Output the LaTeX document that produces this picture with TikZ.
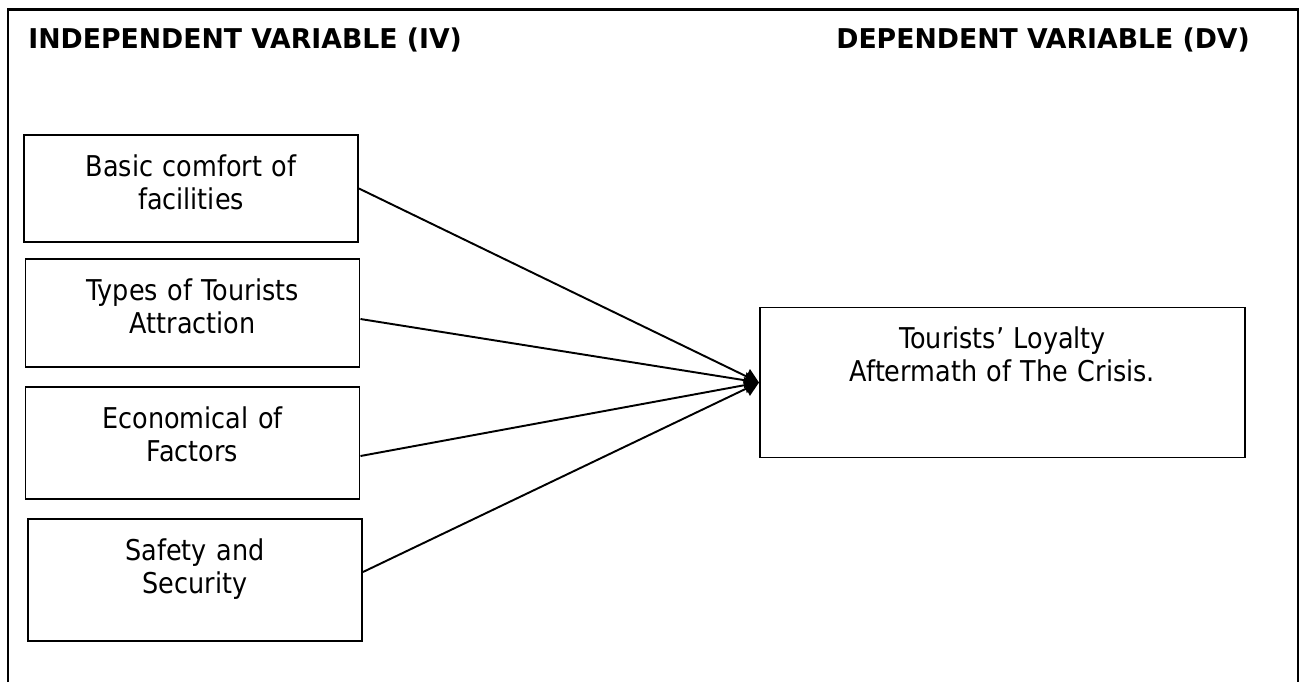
\documentclass[tikz,border=0pt]{standalone}
\usepackage{fontspec}
\usepackage{tikz}
\usetikzlibrary{arrows.meta,positioning}
\newfontfamily\bodyfont{DejaVu Sans}[FakeStretch=0.89]
\newfontfamily\headfont{DejaVu Sans}[FakeStretch=0.98]

\begin{document}
\begin{tikzpicture}[
			>={Triangle[length=8pt,width=9pt]},
			head/.style={anchor=base west, inner sep=0pt, font=\headfont\bfseries\fontsize{15.5}{18}\selectfont},
			ivbox/.style={draw, line width=1.1pt, align=center, inner xsep=0pt, inner ysep=0.3cm, text width=6.68cm, text height=0.52cm, font=\bodyfont\fontsize{16.3}{18.8}\selectfont},
			dvbox/.style={ivbox, text width=9.7cm},
			flow/.style={->, line width=1.1pt}
			]
			\useasboundingbox (0,0) rectangle (26.08,-13.64);
			% outer frame, open at the bottom
			\draw[line width=1.2pt] (0.16,-13.64) |- (25.96,-0.19) -- (25.96,-13.64);
			
			\node[head] (ivhead) at (0.56,-0.96) {INDEPENDENT VARIABLE (IV)};
			\node[head] (dvhead) at (16.72,-0.96) {DEPENDENT VARIABLE (DV)};
			
			\node[ivbox, text depth=1.02cm] (comfort) at (3.82,-3.77) {Basic comfort of\\facilities};
			\node[ivbox, text depth=1.04cm] (attract) at (3.85,-6.26) {Types of Tourists\\Attraction};
			\node[ivbox, text depth=1.12cm] (econ) at (3.85,-8.86) {Economical of\\Factors};
			\node[ivbox, text depth=1.32cm] (safety) at (3.90,-11.60) {Safety and\\Security};
			
			\node[dvbox, text depth=1.88cm] (loyalty) at (20.05,-7.65) {Tourists’ Loyalty\\Aftermath of The Crisis.};
			
			\draw[flow] (comfort.east) -- (loyalty.west);
			\draw[flow] ([yshift=-1.2mm]attract.east) -- (loyalty.west);
			\draw[flow] ([yshift=-2.6mm]econ.east) -- (loyalty.west);
			\draw[flow] ([yshift=1.6mm]safety.east) -- (loyalty.west);
		\end{tikzpicture}
\end{document}
